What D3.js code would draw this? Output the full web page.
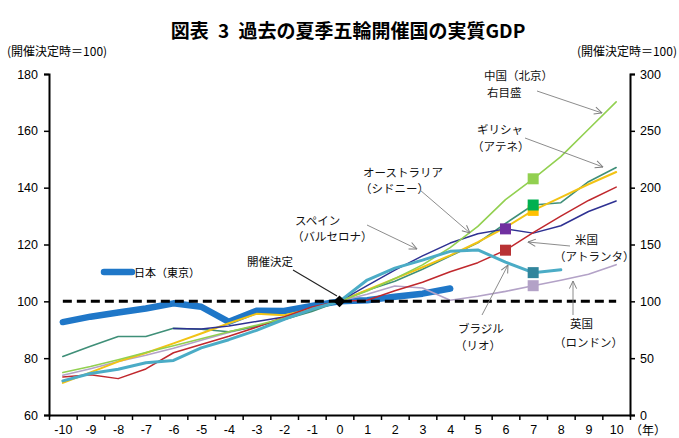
<!DOCTYPE html>
<html><head><meta charset="utf-8">
<script src="https://cdn.jsdelivr.net/npm/d3@7"></script>
<style>body{margin:0;background:#fff} svg{display:block}</style>
</head><body><svg id="c" width="679" height="438"></svg>
<script>
// ---- data ----
const years = [-10,-9,-8,-7,-6,-5,-4,-3,-2,-1,0,1,2,3,4,5,6,7,8,9,10];
const leftTicks = [60,80,100,120,140,160,180];
const rightTicks = [0,50,100,150,200,250,300];
const japanYears = [-10,-9,-8,-7,-6,-5,-4,-3,-2,-1,0,1,2,3,4];
const japan = [92.7,94.6,96.1,97.5,99.3,98.1,92.8,96.7,96.6,98.4,100,100.4,101.6,102.7,104.5];
const spainYears = [-6,-5,-4,-3,-2,-1,0,1,2,3,4,5,6,7,8,9,10];
const spain = [90.4,90.3,91.3,92.9,94.5,96.9,100,105.5,111,116,120.5,123.8,125.5,124,126.6,131.6,135.3];
const usa = [73.4,74.2,72.8,76.2,81.9,84.8,87.7,90.9,94.5,98,100,100.4,103.7,106.7,110.4,113.6,118,124.2,130,135.5,140.2];
const brazilYears = [-10,-9,-8,-7,-6,-5,-4,-3,-2,-1,0,1,2,3,4,5,6,7,8];
const brazil = [72,74.6,76.1,78.4,79.2,83.6,86.5,89.8,93.7,97.2,100,107.5,111.7,114.5,117.6,118.1,113.8,110.1,111.1];
const uk = [74,76.3,78.8,81,83.5,86.3,89,91.3,93.6,96.8,100,102.5,105.4,104.7,100.4,101.8,103.5,105.5,107.4,109.5,112.9];
const australia = [71.3,75,78.8,81.8,85.2,88.7,92.3,95.6,95.1,97.3,100,104,108,112,116.2,120.8,126,132,136.6,141.2,145.5];
const greece = [80.6,84.2,87.6,87.6,90.5,90.2,89.3,91.2,93.6,96.4,100,103.9,107.1,111.3,115.9,120.6,127.4,133.9,134.7,142.1,147.1];
const chinaRight = [37.4,42.7,48.6,54.9,61,67,73.2,78.9,85,92.3,100,109.1,120,132.1,147.2,165.9,189.5,207.8,227.3,251.4,275.5];
const markerYear = {spain:6, usa:6, australia:7, greece:7, china:7, brazil:7, uk:7};

// ---- layout ----
const svg = d3.select('#c');
const x = d3.scaleLinear().domain([-10.5, 10.5]).range([49, 630]);
const yL = d3.scaleLinear().domain([60, 180]).range([415, 74]);
const yR = d3.scaleLinear().domain([0, 300]).range([415, 74]);
const font = '"Noto Sans CJK JP","Noto Sans",sans-serif';
const numFont = '"Liberation Sans",Arial,sans-serif';

// title
svg.append('text').attr('x', 348).attr('y', 38).attr('text-anchor','middle')
  .attr('font-family', font).attr('font-weight', 700).attr('font-size', 19)
  .attr('word-spacing', 5)
  .text('図表 3 過去の夏季五輪開催国の実質GDP');
svg.append('text').attr('x', 7).attr('y', 56).attr('font-family', font).attr('font-size', 12)
  .text('(開催決定時＝100)');
svg.append('text').attr('x', 677).attr('y', 56).attr('text-anchor','end').attr('font-family', font).attr('font-size', 12)
  .text('(開催決定時＝100)');

// axes
const gL = svg.append('g').attr('transform','translate(49,0)')
  .call(d3.axisLeft(yL).tickValues(leftTicks).tickSize(5).tickPadding(6));
const gR = svg.append('g').attr('transform','translate(630,0)')
  .call(d3.axisRight(yR).tickValues(rightTicks).tickSize(5).tickPadding(5));
const halfTicks = years.map(d => d - 0.5).concat([10.5]);
const gB = svg.append('g').attr('transform','translate(0,415)')
  .call(d3.axisBottom(x).tickValues(halfTicks).tickFormat('').tickSize(5).tickSizeOuter(0));
const gB2 = svg.append('g').attr('transform','translate(0,415)')
  .call(d3.axisBottom(x).tickValues(years).tickSize(0).tickPadding(10).tickFormat(d => String(d)));
gB2.select('.domain').remove();
[gL, gR, gB].forEach(g => {
  g.select('.domain').attr('stroke','#000').attr('stroke-width',2);
  g.selectAll('.tick line').attr('stroke','#000').attr('stroke-width',1.5);
});
[gL, gR, gB2].forEach(g => g.selectAll('text').attr('font-family', numFont).attr('font-size', 12.5).attr('fill','#000'));
svg.append('text').attr('x', 630).attr('y', 435).attr('font-family', font).attr('font-size', 12).text('（年）');

// lines
const lineL = d3.line().x(d => x(d[0])).y(d => yL(d[1]));
const lineR = d3.line().x(d => x(d[0])).y(d => yR(d[1]));
const zip = (ys, vs) => ys.map((y, i) => [y, vs[i]]);
const series = [
  {key:'japan', pts: zip(japanYears, japan), axis:'L', color:'#1f77c8', w:6.5},
  {key:'uk', pts: zip(years, uk), axis:'L', color:'#b3a2c7', w:1.6, mc:'#b3a2c7'},
  {key:'greece', pts: zip(years, greece), axis:'L', color:'#3f8f78', w:1.6, mc:'#00b050'},
  {key:'australia', pts: zip(years, australia), axis:'L', color:'#f2c314', w:2, mc:'#ffc000'},
  {key:'spain', pts: zip(spainYears, spain), axis:'L', color:'#2e3192', w:1.5, mc:'#7030a0'},
  {key:'usa', pts: zip(years, usa), axis:'L', color:'#c0282d', w:1.5, mc:'#b83234'},
  {key:'china', pts: zip(years, chinaRight), axis:'R', color:'#92d050', w:1.6, mc:'#92d050'},
  {key:'brazil', pts: zip(brazilYears, brazil), axis:'L', color:'#4bacc6', w:3, mc:'#31859c'}
];
series.forEach(s => {
  svg.append('path').datum(s.pts).attr('fill','none').attr('stroke', s.color)
    .attr('stroke-width', s.w).attr('stroke-linejoin','round').attr('stroke-linecap','round')
    .attr('d', s.axis === 'L' ? lineL : lineR);
});

// reference dashed line at 100
svg.append('line').attr('x1', x(-10)).attr('x2', x(10)).attr('y1', yL(100)).attr('y2', yL(100))
  .attr('stroke','#000').attr('stroke-width',3).attr('stroke-dasharray','9,5');

// markers
const msize = 11;
['australia','greece','china','brazil','uk','spain','usa'].forEach(k => {
  const s = series.find(d => d.key === k);
  const p = s.pts.find(d => d[0] === markerYear[k]);
  const cx = x(p[0]), cy = s.axis === 'L' ? yL(p[1]) : yR(p[1]);
  svg.append('rect').attr('x', cx - msize/2).attr('y', cy - msize/2)
    .attr('width', msize).attr('height', msize).attr('fill', s.mc);
});
// decision point diamond
svg.append('path').attr('d', d3.symbol().type(d3.symbolDiamond2).size(90)())
  .attr('transform', `translate(${x(0)},${yL(100)})`).attr('fill','#000');

// legend
svg.append('line').attr('x1',104).attr('x2',132).attr('y1',272).attr('y2',272)
  .attr('stroke','#1f77c8').attr('stroke-width',6.5).attr('stroke-linecap','round');
svg.append('text').attr('x',134).attr('y',276.5).attr('font-family',font).attr('font-size',11).text('日本（東京）');

// annotations
const defs = svg.append('defs');
defs.append('marker').attr('id','arr').attr('viewBox','0 0 10 10').attr('refX',9.5).attr('refY',5)
  .attr('markerWidth',9).attr('markerHeight',9).attr('markerUnits','userSpaceOnUse').attr('orient','auto')
  .append('path').attr('d','M1,1 L9.5,5 L1,9').attr('fill','none').attr('stroke','#7f7f7f').attr('stroke-width',1.1);
const notes = [
  {lines:['中国（北京）','右目盛'], x:[484,487], y:[80,97], a:[537,91,602,113]},
  {lines:['ギリシャ','（アテネ）'], x:[477,472], y:[134,151], a:[525,138,603,167]},
  {lines:['オーストラリア','（シドニー）'], x:[363,360], y:[176.5,193], a:[420,190,470,233]},
  {lines:['スペイン','（バルセロナ）'], x:[295,292], y:[225,241], a:[367,225,417,249]},
  {lines:['開催決定'], x:[247], y:[266], a:[293,270,337,296], noHead:true},
  {lines:['米国','（アトランタ）'], x:[575,554], y:[244,261], a:[570,246,528,242]},
  {lines:['ブラジル','（リオ）'], x:[458,455], y:[333,350], a:[482,315,508,265]},
  {lines:['英国','（ロンドン）'], x:[570,554], y:[328,346.5], a:[573,315,573,281]}
];
notes.forEach(n => {
  n.lines.forEach((t, i) => svg.append('text').attr('x', n.x[i]).attr('y', n.y[i])
    .attr('font-family', font).attr('font-size', 11.5).attr('fill','#111').text(t));
  const l = svg.append('line').attr('x1', n.a[0]).attr('y1', n.a[1]).attr('x2', n.a[2]).attr('y2', n.a[3])
    .attr('stroke', n.noHead ? '#222' : '#7f7f7f').attr('stroke-width', n.noHead ? 1.1 : 0.9);
  if (!n.noHead) l.attr('marker-end','url(#arr)');
});
</script>
</body></html>
